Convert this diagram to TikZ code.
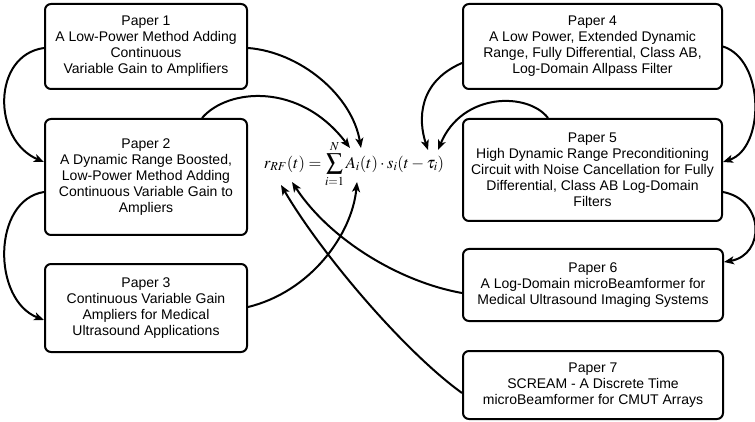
\documentclass[tikz,border=0pt]{standalone}
\usepackage{mathptmx}
\usepackage[no-math]{fontspec}
\setmainfont{Liberation Sans}
\usetikzlibrary{arrows.meta}
\begin{document}
\begin{tikzpicture}[x=1pt,y=-1pt,
  paper/.style={draw,line width=2pt,rounded corners=6pt,align=center,
    inner sep=0pt,font=\fontsize{14}{16}\selectfont},
  link/.style={line width=2pt,-{Stealth[length=10pt,width=8pt,inset=2.5pt]}}]
\useasboundingbox (0,0) rectangle (755,422);
\node[paper,minimum width=202pt,minimum height=85pt] (b1) at (146,46.5)
  {Paper 1\\A Low-Power Method Adding\\Continuous\\Variable Gain to Amplifiers};
\node[paper,minimum width=202pt,minimum height=116pt] (b2) at (146,177)
  {Paper 2\\A Dynamic Range Boosted,\\Low-Power Method Adding\\Continuous Variable Gain to\\Ampliers};
\node[paper,minimum width=202pt,minimum height=88pt] (b3) at (146,308)
  {Paper 3\\Continuous Variable Gain\\Ampliers for Medical\\Ultrasound Applications};
\node[paper,minimum width=259pt,minimum height=85pt] (b4) at (592.5,46.5)
  {Paper 4\\A Low Power, Extended Dynamic\\Range, Fully Differential, Class AB,\\Log-Domain Allpass Filter};
\node[paper,minimum width=259pt,minimum height=102pt] (b5) at (592.5,170)
  {Paper 5\\High Dynamic Range Preconditioning\\Circuit with Noise Cancellation for Fully\\Differential, Class AB Log-Domain\\Filters};
\node[paper,minimum width=260pt,minimum height=72pt] (b6) at (593,285)
  {Paper 6\\A Log-Domain microBeamformer for\\Medical Ultrasound Imaging Systems};
\node[paper,minimum width=260pt,minimum height=68pt] (b7) at (593,385)
  {Paper 7\\SCREAM - A Discrete Time\\microBeamformer for CMUT Arrays};
\node[inner sep=0pt,font=\fontsize{16.5}{19}\selectfont] (eq) at (354,164)
  {$\displaystyle r_{RF}(t)=\sum_{i=1}^{N}A_i(t)\cdot s_i(t-\tau_i)$};
% targets on the formula
\coordinate (aT1) at (361,148);
\coordinate (aT2) at (350,148);
\coordinate (aB) at (357,182);
\coordinate (tT1) at (428,150);
\coordinate (tT2) at (438,150);
\coordinate (rB1) at (292,182);
\coordinate (rB2) at (281,185);
% left chain
\draw[link] ([yshift=-1.5pt]b1.west) .. controls (-8,55) and (-8,140) .. ([yshift=15pt]b2.west);
\draw[link] ([yshift=-15pt]b2.west) .. controls (-8,200) and (-8,300) .. ([yshift=-12pt]b3.west);
% to A_i
\draw[link] ([yshift=-1.5pt]b1.east) .. controls (300,52) and (352,95) .. (aT1);
\draw[link] ([xshift=56pt]b2.north) .. controls (228,88) and (300,82) .. (aT2);
\draw[link] ([yshift=1pt]b3.east) .. controls (310,292) and (352,235) .. (aB);
% to tau
\draw[link] ([yshift=-16.5pt]b4.west) .. controls (418,82) and (418,120) .. (tT1);
\draw[link] ([xshift=-44.5pt]b5.north) .. controls (528,92) and (462,92) .. (tT2);
% right chain
\draw[link] (b4.east) .. controls (765,60) and (765,148) .. ([yshift=8pt]b5.east);
\draw[link] ([yshift=-22pt]b5.east) .. controls (765,200) and (765,255) .. ([yshift=23pt]b6.east);
% to r_RF
\draw[link] ([yshift=-8pt]b6.west) .. controls (400,282) and (330,240) .. (rB1);
\draw[link] ([yshift=-8pt]b7.west) .. controls (405,352) and (322,255) .. (rB2);
\end{tikzpicture}
\end{document}
